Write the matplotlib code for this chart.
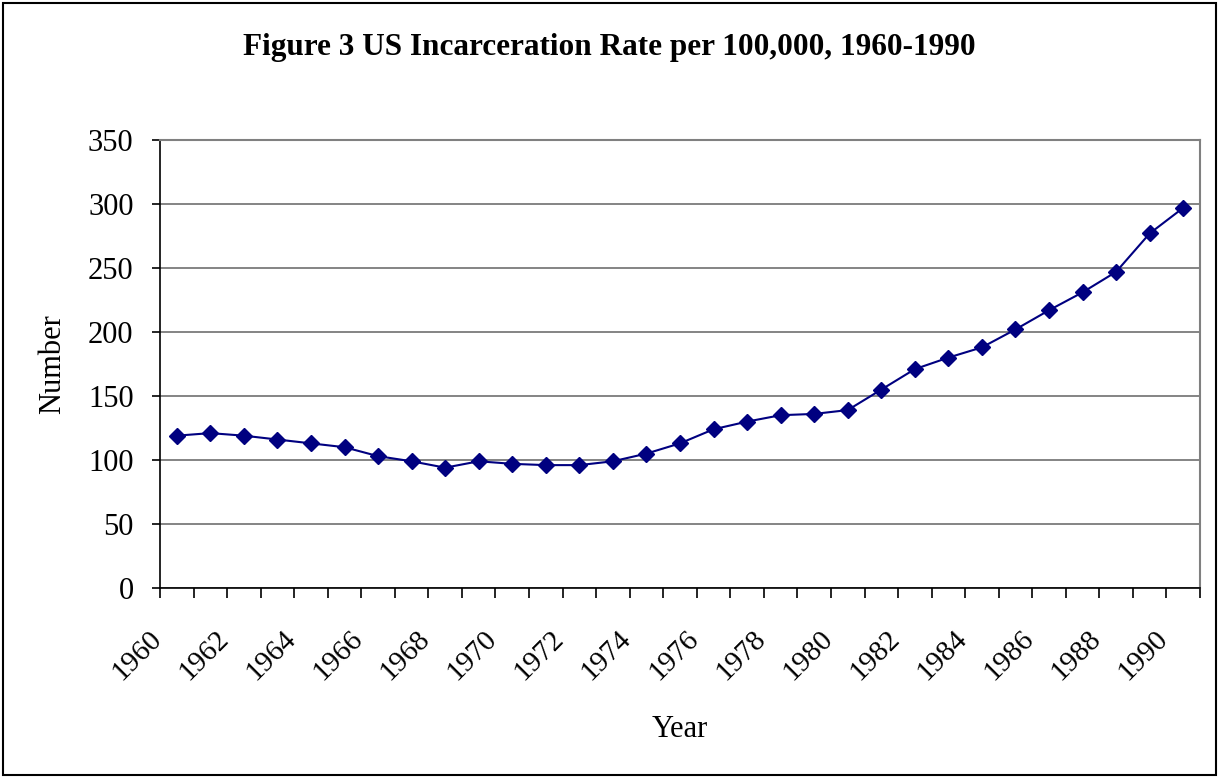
import matplotlib
matplotlib.use("Agg")
import matplotlib.pyplot as plt
from matplotlib.patches import Rectangle
from matplotlib.transforms import ScaledTranslation

# Datos
years = list(range(1960, 1991))
rate = [119, 121, 119, 116, 113, 110, 103, 99, 94, 99, 97, 96, 96,
        99, 105, 113, 124, 130, 135, 136, 139, 155, 171, 180, 188,
        202, 217, 231, 247, 277, 297]
y_ticks = [0, 50, 100, 150, 200, 250, 300, 350]

plt.rcParams["font.family"] = ["Liberation Serif", "DejaVu Serif"]

fig = plt.figure(figsize=(12.19, 7.78), dpi=100)
ax = fig.add_axes([160 / 1219, 1 - 588 / 778, 1040 / 1219, 448 / 778])

x = list(range(len(years)))
ax.plot(x, rate, color="#000080", linewidth=1.5, marker="D",
        markersize=8, markerfacecolor="#000080", markeredgecolor="#000080",
        zorder=3)

ax.set_xlim(-0.5, len(years) - 0.5)
ax.set_ylim(0, 350)
ax.set_yticks(y_ticks)
ax.yaxis.grid(True, color="#707070", linewidth=1.2)
ax.set_axisbelow(True)

# ticks en los límites de categoría, etiquetas cada dos años
ax.set_xticks([i - 0.5 for i in range(len(years) + 1)], minor=True)
ax.set_xticks(x[::2])
ax.set_xticklabels([str(y) for y in years[::2]], rotation=45,
                   ha="right", va="top", fontsize=21)
ax.tick_params(axis="x", which="major", length=0, pad=27)
ax.tick_params(axis="x", which="minor", length=7, width=1.2, direction="out")
ax.tick_params(axis="y", length=6, width=1.2, pad=13, labelsize=22)
offset = ScaledTranslation(-0.10, 0, fig.dpi_scale_trans)
for lbl in ax.get_xticklabels():
    lbl.set_transform(lbl.get_transform() + offset)

for side in ["top", "right"]:
    ax.spines[side].set_color("#808080")
    ax.spines[side].set_linewidth(1.5)
for side in ["left", "bottom"]:
    ax.spines[side].set_color("black")
    ax.spines[side].set_linewidth(1.2)

ax.set_ylabel("Number", fontsize=22, labelpad=15)
ax.set_xlabel("Year", fontsize=22)
ax.xaxis.set_label_coords(0.5, -0.283)
fig.text(0.5, 1 - 48 / 778, "Figure 3 US Incarceration Rate per 100,000, 1960-1990",
         ha="center", va="center", fontsize=22.5, fontweight="bold")

fig.patches.append(Rectangle((3 / 1219, 3 / 778), 1213 / 1219, 772 / 778,
                             transform=fig.transFigure, fill=False,
                             edgecolor="black", linewidth=1.5))

fig.savefig("out.png", dpi=100)
